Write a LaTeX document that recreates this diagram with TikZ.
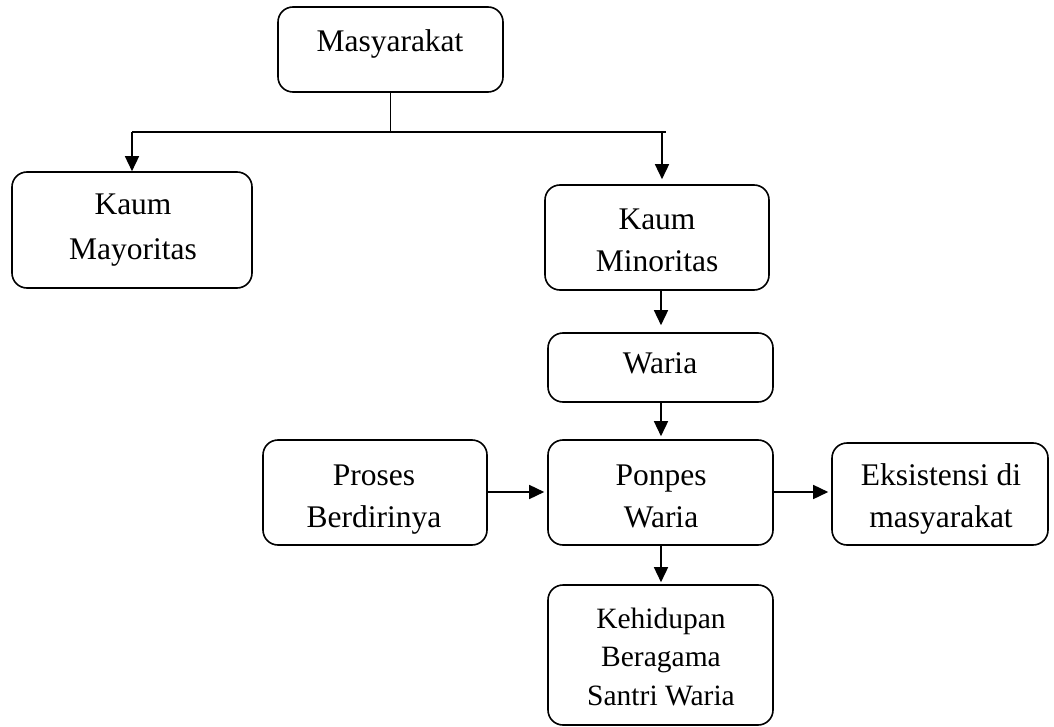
\documentclass[tikz,border=0pt]{standalone}
\usepackage{fontspec}
\setmainfont{Liberation Serif}
\usetikzlibrary{arrows.meta}
\begin{document}
\begin{tikzpicture}[x=1pt,y=-1pt,
  box/.style={draw=black,line width=1.6pt,rounded corners=15pt,inner sep=0pt,minimum width=#1},
  txt/.style={anchor=base,inner sep=0pt,font=\fontsize{31.5}{36}\selectfont},
  txts/.style={anchor=base,inner sep=0pt,font=\fontsize{29.5}{34}\selectfont},
  conn/.style={line width=1.5pt},
  arr/.style={line width=1.5pt,-{Triangle[length=15pt,width=14pt]}}]
\fill[white] (0,0) rectangle (1054,727);
\useasboundingbox (0,0) rectangle (1054,727);
% boxes
\node[box=225pt,minimum height=85pt] (mas) at (390.5,49.5) {};
\node[box=240pt,minimum height=116pt] (may) at (132,230) {};
\node[box=224pt,minimum height=105pt] (min) at (657,237.5) {};
\node[box=225pt,minimum height=69pt] (war) at (660.5,367.5) {};
\node[box=224pt,minimum height=105pt] (pro) at (375,492.5) {};
\node[box=225pt,minimum height=105pt] (pon) at (660.5,492.5) {};
\node[box=216pt,minimum height=102pt] (eks) at (940,494) {};
\node[box=225pt,minimum height=140pt] (keh) at (660.5,655) {};
% texts
\node[txt] (tmas) at (390,52) {Masyarakat};
\node[txt] (tmay1) at (133,215) {Kaum};
\node[txt] (tmay2) at (133,259) {Mayoritas};
\node[txt] (tmin1) at (657,230) {Kaum};
\node[txt] (tmin2) at (657,271) {Minoritas};
\node[txt] (twar) at (660,373) {Waria};
\node[txt] (tpro1) at (374,485) {Proses};
\node[txt] (tpro2) at (374,527) {Berdirinya};
\node[txt] (tpon1) at (661,485) {Ponpes};
\node[txt] (tpon2) at (661,527) {Waria};
\node[txt] (teks1) at (941,485) {Eksistensi di};
\node[txt] (teks2) at (941,527) {masyarakat};
\node[txts] (tkeh1) at (661,628) {Kehidupan};
\node[txts] (tkeh2) at (661,666) {Beragama};
\node[txts] (tkeh3) at (661,705) {Santri Waria};
% connectors
\coordinate (j) at (390.5,132);
\coordinate (L) at (132,132);
\coordinate (R) at (666,132);
\coordinate (Ra) at (662,132);
\coordinate (col) at (661,0);
\draw[conn] (mas.south) -- (j);
\draw[conn] (L) -- (R);
\draw[arr] (L) -- (may.north);
\draw[arr,shorten >=5pt] (Ra) -- (Ra |- min.north);
\draw[arr,shorten >=7pt] (col |- min.south) -- (col |- war.north);
\draw[arr,shorten >=3pt] (col |- war.south) -- (col |- pon.north);
\draw[arr,shorten >=3pt] (pro.east |- 0,492) -- (pon.west |- 0,492);
\draw[arr,shorten >=3pt] (pon.east |- 0,492) -- (eks.west |- 0,492);
\draw[arr,shorten >=2pt] (col |- pon.south) -- (col |- keh.north);
\end{tikzpicture}
\end{document}
